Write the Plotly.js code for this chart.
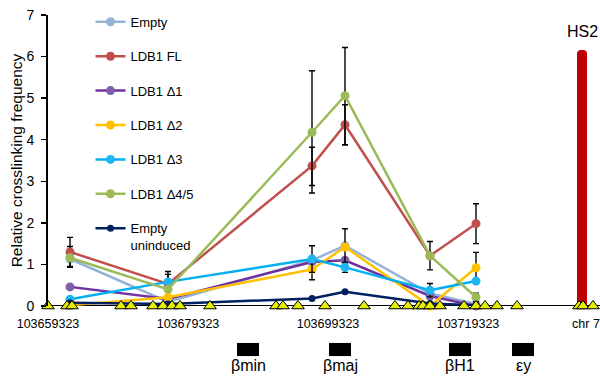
<!DOCTYPE html>
<html>
<head>
<meta charset="utf-8">
<script src="https://cdn.plot.ly/plotly-3.0.1.min.js"></script>
<style>html,body{margin:0;padding:0;background:#fff}#chart{width:600px;height:379px}</style>
</head>
<body>
<div id="chart"></div>
<script>
// Genomic positions (bp, chr 7) of the 3C fragments measured
var positions = [103662466, 103676466, 103697037, 103701752, 103713894, 103720466];

// Relative crosslinking frequency per construct
var empty      = [1.13, 0.10, 1.10, 1.45, 0.30, 0.05];
var ldb1FL     = [1.30, 0.53, 3.37, 4.36, 1.21, 1.98];
var ldb1D1     = [0.46, 0.17, 1.06, 1.10, 0.24, 0.00];
var ldb1D2     = [0.02, 0.21, 0.88, 1.42, 0.00, 0.92];
var ldb1D3     = [0.16, 0.58, 1.13, 0.93, 0.38, 0.60];
var ldb1D45    = [1.16, 0.40, 4.18, 5.06, 1.21, 0.21];
var uninduced  = [0.08, 0.05, 0.18, 0.34, 0.06, 0.02];

// Error bars (upper / lower)
var emptyErrUp   = [0.30, 0, 0, 0, 0, 0];
var emptyErrDn   = [0.20, 0, 0, 0, 0, 0];
var flErrUp      = [0.35, 0.30, 0.45, 0.48, 0.34, 0.48];
var flErrDn      = [0.35, 0.15, 0.47, 0.48, 0.34, 0.48];
var d2Err        = [0, 0, 0.25, 0.44, 0, 0.37];
var d3Err        = [0, 0.18, 0.32, 0.12, 0.16, 0.05];
var d45ErrUp     = [0, 0, 1.48, 1.16, 0, 0.10];
var d45ErrDn     = [0, 0, 1.46, 1.18, 0, 0.10];

// Restriction site positions (yellow triangles)
var sites = [103659323, 103662037, 103662752, 103669752, 103671180, 103674323, 103675752,
             103677037, 103678180, 103682466, 103691894, 103692894, 103695037, 103698894,
             103704466, 103708894, 103710752, 103712323, 103712894, 103713894, 103715323,
             103718752, 103720466, 103721752, 103723466, 103726323, 103735180, 103735752,
             103737180];

// HS2 anchor
var anchorName = "HS2";
var anchorPos = [103735609];
var anchorVal = [6.16];

// Axis ticks
var tickVals = [103659323, 103679323, 103699323, 103719323, 103736180];
var tickText = ["103659323", "103679323", "103699323", "103719323", "chr 7"];

// Genes
var geneNames = ["βmin", "βmaj", "βH1", "εy"];
var geneStart = [103686323, 103699466, 103716609, 103725609];
var geneEnd   = [103689466, 103702609, 103719752, 103728752];

var errStyle = {color: "#000", thickness: 1.4, width: 3};
function series(name, y, color, mcolor, msize, up, dn) {
  var t = {
    type: "scatter", mode: "lines+markers", name: name,
    x: positions, y: y, cliponaxis: false,
    line: {color: color, width: 2.5},
    marker: {color: mcolor, size: msize, symbol: "circle"},
    legendgroup: name
  };
  if (up) {
    t.error_y = Object.assign({type: "data", symmetric: false, array: up, arrayminus: dn || up, visible: true}, errStyle);
  }
  return t;
}

var traces = [
  series("Empty", empty, "#95B3D7", "#95B3D7", 9, emptyErrUp, emptyErrDn),
  series("LDB1 FL", ldb1FL, "#C0504D", "#C0504D", 9, flErrUp, flErrDn),
  series("LDB1 Δ1", ldb1D1, "#7030A0", "#7F5FA8", 9, null, null),
  series("LDB1 Δ2", ldb1D2, "#FFC000", "#FFC000", 9, d2Err, d2Err),
  series("LDB1 Δ3", ldb1D3, "#00B0F0", "#1FB5F0", 9, d3Err, d3Err),
  series("LDB1 Δ4/5", ldb1D45, "#9BBB59", "#9BBB59", 9, d45ErrUp, d45ErrDn),
  series("Empty<br>uninduced", uninduced, "#002060", "#002060", 7, null, null),
  {
    type: "bar", x: anchorPos, y: anchorVal, width: 1430, showlegend: false,
    marker: {color: "#C00000", cornerradius: 4}, hoverinfo: "skip"
  },
  {
    type: "scatter", mode: "markers", x: sites, y: sites.map(function(){return 0;}),
    showlegend: false, cliponaxis: false,
    marker: {symbol: "triangle-up", size: 11, color: "#E6EE00", line: {color: "#000", width: 1}}
  }
];

var shapes = [];
var annotations = [];
for (var i = 0; i < geneNames.length; i++) {
  shapes.push({type: "rect", xref: "x", yref: "paper", x0: geneStart[i], x1: geneEnd[i],
               y0: -0.172, y1: -0.127, fillcolor: "#000", line: {width: 0}});
  annotations.push({xref: "x", yref: "paper", x: (geneStart[i] + geneEnd[i]) / 2, y: -0.205,
                    text: geneNames[i], showarrow: false, yanchor: "middle",
                    font: {family: "Liberation Sans, Arial, sans-serif", size: 16, color: "#000"}});
}
annotations.push({xref: "x", yref: "y", x: anchorPos[0], y: anchorVal[0], text: anchorName,
                  showarrow: false, yanchor: "bottom", yshift: 8,
                  font: {family: "Liberation Sans, Arial, sans-serif", size: 16, color: "#000"}});

var layout = {
  width: 600, height: 379,
  margin: {l: 48, r: 0, t: 15, b: 73, pad: 0},
  paper_bgcolor: "#fff", plot_bgcolor: "#fff",
  font: {family: "Liberation Sans, Arial, sans-serif", color: "#000"},
  showlegend: true,
  barmode: "overlay",
  legend: {x: 0.077, y: 1.028, xanchor: "left", yanchor: "top", bgcolor: "rgba(0,0,0,0)",
           font: {size: 13, color: "#000"}, tracegroupgap: 14.5, valign: "top",
           traceorder: "grouped", maxheight: 379},
  xaxis: {
    range: [103659323, 103738180], showgrid: false, zeroline: false,
    showline: false, ticks: "", tickvals: tickVals, ticktext: tickText,
    tickfont: {size: 12.5, color: "#000"}, ticklabelstandoff: 8, fixedrange: true
  },
  yaxis: {
    range: [0, 7], dtick: 1, showgrid: false, zeroline: false,
    showline: true, linecolor: "#000", linewidth: 2,
    ticks: "outside", ticklen: 5, tickwidth: 1.5, tickcolor: "#000",
    tickfont: {size: 14, color: "#000"}, ticklabelstandoff: 4,
    title: {text: "Relative crosslinking frequency", font: {size: 15.5, color: "#000"}, standoff: 0}
  },
  shapes: [{type: "line", xref: "paper", yref: "y", x0: 0, x1: 1, y0: 0, y1: 0,
            line: {color: "#000", width: 2}, layer: "below"}].concat(shapes),
  annotations: annotations
};

Plotly.newPlot("chart", traces, layout, {displayModeBar: false, staticPlot: true});
</script>
</body>
</html>
